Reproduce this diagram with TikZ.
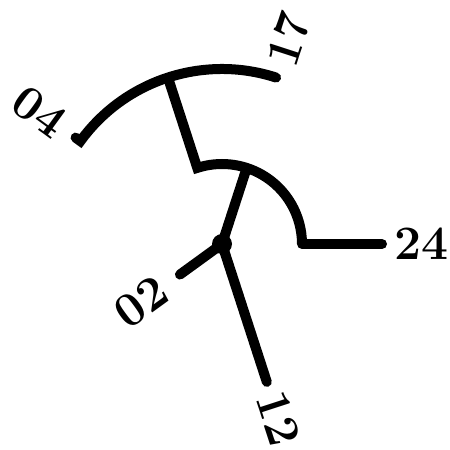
\documentclass[tikz,border=0pt]{standalone}
\begin{document}
\begin{tikzpicture}[x=1pt,y=1pt,
  br/.style={line width=10pt,line cap=round,line join=miter},
  lab/.style={font=\bfseries\fontsize{48}{48}\selectfont,inner sep=0pt}]
\useasboundingbox (0,0) rectangle (450,450);
\coordinate (root) at (222,206);
\begin{scope}[shift={(root)}]
  \coordinate (A) at (72:80);
  \coordinate (B) at (108:175);
  \coordinate (Bin) at (108:80);
  \coordinate (A24) at (0:80);
  \coordinate (t24) at (0:160);
  \coordinate (t17) at (72:175);
  \coordinate (t04) at (144:175);
  \coordinate (t04s) at (144:181);
  \coordinate (t02) at (216:52);
  \coordinate (t12) at (288:145);
  \node[lab,anchor=west] (l24) at (0:172) {24};
  \node[lab,anchor=west,rotate=72] (l17) at (72:188) {17};
  \node[lab,anchor=east,rotate=-36] (l04) at (144:198) {04};
  \node[lab,anchor=east,rotate=36] (l02) at (216:72) {02};
  \node[lab,anchor=west,rotate=-72] (l12) at (288:156) {12};
\end{scope}
\draw[br,line cap=butt] (root) -- (A);
\draw[br,line cap=butt] (A24) arc[start angle=0,end angle=108,radius=80pt] -- (B);
\draw[br] (A24) -- (t24);
\draw[br] (t04s) -- (t04) arc[start angle=144,end angle=72,radius=175pt];
\draw[br] (root) -- (t02);
\draw[br] (root) -- (t12);
\fill (root) circle (10pt);
\end{tikzpicture}
\end{document}
